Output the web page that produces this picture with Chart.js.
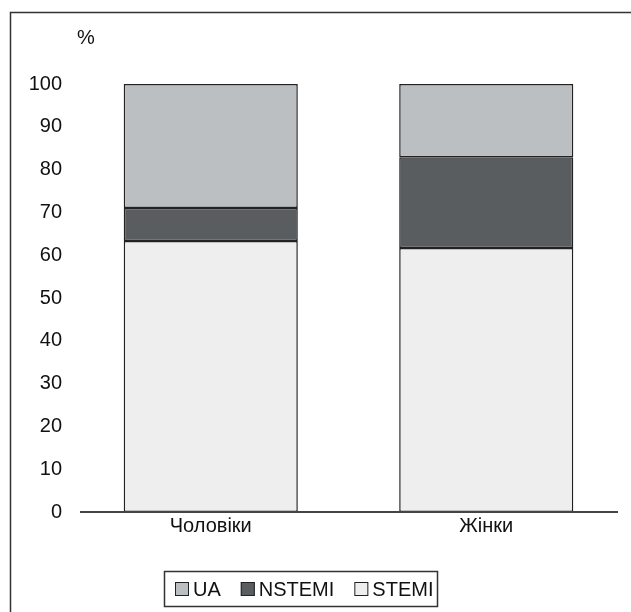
<!DOCTYPE html>
<html>
<head>
<meta charset="utf-8">
<script src="https://cdn.jsdelivr.net/npm/chart.js@4"></script>
<style>
  html, body { margin: 0; padding: 0; background: #fff; overflow: hidden; }
  #wrap { position: relative; width: 631px; height: 612px; }
</style>
</head>
<body>
<div id="wrap"><canvas id="chart" width="631" height="612"></canvas></div>
<script>
// ===== DADOS =====
const categories = ['Чоловіки', 'Жінки'];
const stemiValues = [63.3, 61.7];
const nstemiValues = [7.7, 21.2];
const uaValues = [29.0, 17.1];
const yTicks = [0, 10, 20, 30, 40, 50, 60, 70, 80, 90, 100];

const FONT = "'Liberation Sans', Arial, Helvetica, sans-serif";
const TEXT = '#111';

// Moldura, "%" e legenda desenhados à mão
const extrasPlugin = {
    id: 'extras',
    afterDraw(chart) {
        const ctx = chart.ctx;
        const y = chart.scales.y;
        ctx.save();

        // moldura externa
        ctx.strokeStyle = '#333';
        ctx.lineWidth = 1.5;
        ctx.strokeRect(10.5, 12.5, 700, 700);

        // linha do eixo x
        const y0 = y.getPixelForValue(0);
        ctx.strokeStyle = '#444';
        ctx.lineWidth = 2;
        ctx.beginPath();
        ctx.moveTo(80, y0);
        ctx.lineTo(618, y0);
        ctx.stroke();

        // unidade
        ctx.fillStyle = TEXT;
        ctx.font = '20px ' + FONT;
        ctx.textBaseline = 'alphabetic';
        ctx.textAlign = 'left';
        ctx.fillText('%', 77, 44);

        // legenda (ordem invertida: UA, NSTEMI, STEMI)
        const items = chart.data.datasets.slice().reverse();
        const boxSize = 14;
        let cx = 175;
        const midY = 589;
        const widths = items.map(ds => ctx.measureText(ds.label).width);
        ctx.strokeStyle = '#333';
        ctx.lineWidth = 1.5;
        ctx.strokeRect(164.5, 571.5, 273, 35);
        items.forEach((ds, i) => {
            ctx.fillStyle = ds.backgroundColor;
            ctx.fillRect(cx, midY - boxSize / 2, boxSize, boxSize);
            ctx.strokeStyle = '#222';
            ctx.lineWidth = 1;
            ctx.strokeRect(cx + 0.5, midY - boxSize / 2 + 0.5, boxSize - 1, boxSize - 1);
            ctx.fillStyle = TEXT;
            ctx.textBaseline = 'middle';
            ctx.fillText(ds.label, cx + boxSize + 4, midY + 1);
            cx += boxSize + 4 + widths[i] + 20;
        });
        ctx.restore();
    }
};

const ctx = document.getElementById('chart');
new Chart(ctx, {
    type: 'bar',
    data: {
        labels: categories,
        datasets: [
            { label: 'STEMI', data: stemiValues, backgroundColor: '#edeeed' },
            { label: 'NSTEMI', data: nstemiValues, backgroundColor: '#5a5d60' },
            { label: 'UA', data: uaValues, backgroundColor: '#bcbfc2' }
        ].map(ds => Object.assign(ds, {
            borderColor: '#222',
            borderWidth: 1.5,
            borderSkipped: false,
            barPercentage: 0.632,
            categoryPercentage: 1
        }))
    },
    options: {
        responsive: false,
        animation: false,
        events: [],
        layout: { padding: { top: 84, right: 7, bottom: 72, left: 0 } },
        plugins: {
            legend: { display: false },
            tooltip: { enabled: false }
        },
        scales: {
            x: {
                stacked: true,
                grid: { display: false, drawTicks: false },
                border: { display: false },
                ticks: { color: TEXT, font: { family: FONT, size: 20 }, padding: 2 }
            },
            y: {
                stacked: true,
                min: 0,
                max: 100,
                grid: { display: false, drawTicks: false },
                border: { display: false },
                afterBuildTicks: axis => { axis.ticks = yTicks.map(v => ({ value: v })); },
                afterFit: axis => { axis.width = 73; },
                ticks: { color: TEXT, font: { family: FONT, size: 20 }, padding: 11 }
            }
        }
    },
    plugins: [extrasPlugin]
});
</script>
</body>
</html>
